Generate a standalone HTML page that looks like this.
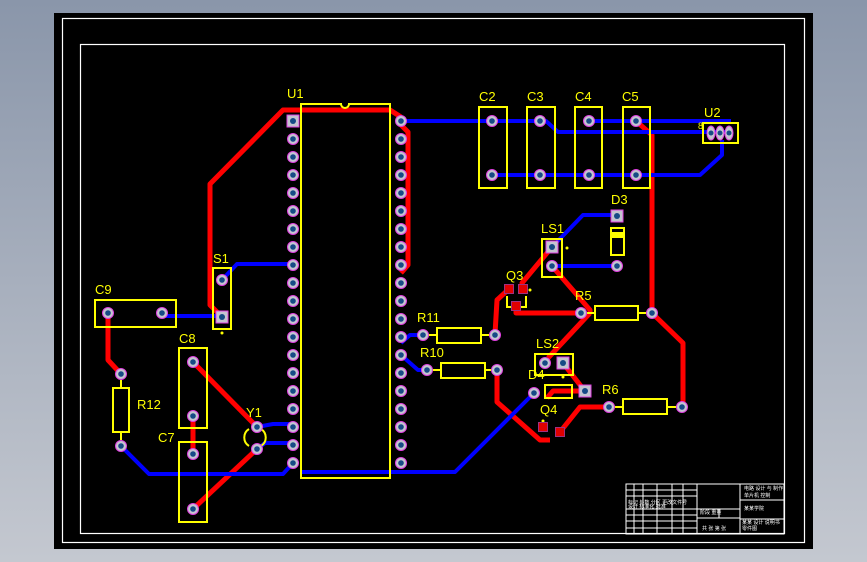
<!DOCTYPE html>
<html><head><meta charset="utf-8"><style>
html,body{margin:0;padding:0;width:867px;height:562px;overflow:hidden;background:linear-gradient(#8a96aa,#c4c8d0)}
svg{display:block}
text{font-family:"Liberation Sans",sans-serif;fill:#ffff00;font-size:13px}
.w{fill:#fff;font-size:5px;font-family:"Liberation Sans","Noto Sans CJK SC",sans-serif}
</style></head><body>
<svg width="867" height="562" viewBox="0 0 867 562">
<defs>
<g id="p"><circle r="5.5" fill="#c4c4d0" stroke="#e040e0" stroke-width="1"/><circle r="2.8" fill="#164a86"/></g>
<g id="s"><rect x="-6" y="-6" width="12" height="12" fill="#c4c4d0" stroke="#e040e0" stroke-width="1"/><circle r="3" fill="#164a86"/></g>
<g id="r"><rect x="-4.5" y="-4.5" width="9" height="9" fill="#e00000" stroke="#a03080" stroke-width="1"/></g>
</defs>
<rect x="54" y="13" width="759" height="536" fill="#000"/>
<rect x="62.5" y="18.5" width="742" height="524" fill="none" stroke="#fff" stroke-width="1.2"/>
<rect x="80.5" y="44.5" width="704" height="489" fill="none" stroke="#fff" stroke-width="1.2"/>

<g fill="none" stroke="#ff0000" stroke-width="5" stroke-linejoin="round">
<polyline points="222,317 210,305 210,184 283,110 390,110 401,117"/>
<polyline points="401,125 408,132 408,265 401,273"/>
<polyline points="108,313 108,360 121,374"/>
<polyline points="193,362 257,427"/>
<polyline points="193,416 193,454"/>
<polyline points="257,449 193,509"/>
<polyline points="636,121 652,135 652,313 683,343 683,406"/>
<polyline points="552,247 522,283 523,289"/>
<polyline points="509,289 497,300 495,334"/>
<polyline points="516,306 516,313 581,313"/>
<polyline points="552,266 590,310 590,313"/>
<polyline points="590,313 548,358"/>
<polyline points="563,363 584,390"/>
<polyline points="584,391 553,391 547,398"/>
<polyline points="497,370 497,402 540,440 550,440"/>
<polyline points="560,432 580,407 609,407"/>
</g>
<g fill="none" stroke="#0000ff" stroke-width="4" stroke-linejoin="round">
<polyline points="401,121 546,121 558,132 725,132"/>
<polyline points="589,121 731,121"/>
<polyline points="492,175 700,175 722,155 722,140"/>
<polyline points="552,247 583,215 617,215"/>
<polyline points="552,266 617,266"/>
<polyline points="401,343 410,335 423,335"/>
<polyline points="401,355 418,370 427,370"/>
<polyline points="534,393 455,472 301,472"/>
<polyline points="162,316 222,316"/>
<polyline points="222,280 237,264 293,264"/>
<polyline points="121,446 149,474 283,474 293,463"/>
<polyline points="257,427 273,424 293,424"/>
<polyline points="257,449 265,443 293,443"/>
</g>

<g fill="none" stroke="#ffff00" stroke-width="2">
<path d="M301,104 H341 A4,4 0 0 0 349,104 H390 V478 H301 Z"/>
<rect x="479" y="107" width="28" height="81"/>
<rect x="527" y="107" width="28" height="81"/>
<rect x="575" y="107" width="27" height="81"/>
<rect x="623" y="107" width="27" height="81"/>
<rect x="703" y="123" width="35" height="20"/>
<rect x="611" y="228" width="13" height="27"/>
<rect x="542" y="239" width="20" height="38"/>
<rect x="535" y="354" width="38" height="21"/>
<rect x="545" y="385" width="27" height="13"/>
<rect x="437" y="328" width="44" height="15"/>
<rect x="441" y="363" width="44" height="15"/>
<rect x="595" y="306" width="43" height="14"/>
<rect x="623" y="399" width="44" height="15"/>
<rect x="95" y="300" width="81" height="27"/>
<rect x="213" y="268" width="18" height="61"/>
<rect x="113" y="388" width="16" height="44"/>
<rect x="179" y="348" width="28" height="80"/>
<rect x="179" y="442" width="28" height="80"/>
<path d="M249,429 A10,10 0 0 0 249,446 M261,429 A10,10 0 0 1 261,446"/>
<path d="M507,296 V307 H512 M526,296 V307 H521"/>
<line x1="121" y1="380" x2="121" y2="388"/><line x1="121" y1="432" x2="121" y2="440"/>
<line x1="429" y1="335" x2="437" y2="335"/><line x1="481" y1="335" x2="489" y2="335"/>
<line x1="433" y1="370" x2="441" y2="370"/><line x1="485" y1="370" x2="491" y2="370"/>
<line x1="587" y1="313" x2="595" y2="313"/><line x1="638" y1="313" x2="646" y2="313"/>
<line x1="615" y1="407" x2="623" y2="407"/><line x1="667" y1="407" x2="676" y2="407"/>
</g>
<rect x="612" y="232" width="11" height="6" fill="#ffff00"/>
<circle cx="567" cy="248" r="1.5" fill="#ff0"/><circle cx="530" cy="290" r="1.5" fill="#ff0"/>
<circle cx="563" cy="377" r="1.5" fill="#ff0"/><circle cx="543" cy="421" r="1.5" fill="#ff0"/>
<circle cx="222" cy="333" r="1.5" fill="#ff0"/>

<use href="#s" x="293" y="121"/>
<g id="lp">
<use href="#p" x="293" y="139"/><use href="#p" x="293" y="157"/><use href="#p" x="293" y="175"/><use href="#p" x="293" y="193"/><use href="#p" x="293" y="211"/><use href="#p" x="293" y="229"/><use href="#p" x="293" y="247"/><use href="#p" x="293" y="265"/><use href="#p" x="293" y="283"/><use href="#p" x="293" y="301"/><use href="#p" x="293" y="319"/><use href="#p" x="293" y="337"/><use href="#p" x="293" y="355"/><use href="#p" x="293" y="373"/><use href="#p" x="293" y="391"/><use href="#p" x="293" y="409"/><use href="#p" x="293" y="427"/><use href="#p" x="293" y="445"/><use href="#p" x="293" y="463"/>
</g>
<use href="#lp" x="108" y="0"/>
<use href="#p" x="401" y="121"/>

<use href="#p" x="492" y="121"/><use href="#p" x="492" y="175"/>
<use href="#p" x="540" y="121"/><use href="#p" x="540" y="175"/>
<use href="#p" x="589" y="121"/><use href="#p" x="589" y="175"/>
<use href="#p" x="636" y="121"/><use href="#p" x="636" y="175"/>
<g fill="#c4c4d0" stroke="#e040e0"><ellipse cx="711" cy="133" rx="4" ry="7"/><ellipse cx="720" cy="133" rx="4" ry="7"/><ellipse cx="729" cy="133" rx="4" ry="7"/></g>
<g fill="#164a86"><circle cx="711" cy="133" r="2.5"/><circle cx="720" cy="133" r="2.5"/><circle cx="729" cy="133" r="2.5"/></g>
<use href="#s" x="617" y="216"/><use href="#p" x="617" y="266"/>
<use href="#s" x="552" y="247"/><use href="#p" x="552" y="266"/>
<use href="#r" x="509" y="289"/><use href="#r" x="523" y="289"/><use href="#r" x="516" y="306"/>
<use href="#p" x="581" y="313"/><use href="#p" x="652" y="313"/>
<use href="#p" x="423" y="335"/><use href="#p" x="495" y="335"/>
<use href="#p" x="427" y="370"/><use href="#p" x="497" y="370"/>
<use href="#p" x="545" y="363"/><use href="#s" x="563" y="363"/>
<use href="#p" x="534" y="393"/><use href="#s" x="585" y="391"/>
<use href="#r" x="543" y="427"/><use href="#r" x="560" y="432"/>
<use href="#p" x="609" y="407"/><use href="#p" x="682" y="407"/>
<use href="#p" x="108" y="313"/><use href="#p" x="162" y="313"/>
<use href="#p" x="222" y="280"/><use href="#s" x="222" y="317"/>
<use href="#p" x="121" y="374"/><use href="#p" x="121" y="446"/>
<use href="#p" x="193" y="362"/><use href="#p" x="193" y="416"/>
<use href="#p" x="193" y="454"/><use href="#p" x="193" y="509"/>
<use href="#p" x="257" y="427"/><use href="#p" x="257" y="449"/>

<text x="287" y="98">U1</text>
<text x="479" y="101">C2</text><text x="527" y="101">C3</text><text x="575" y="101">C4</text><text x="622" y="101">C5</text>
<text x="704" y="117">U2</text><text x="698" y="129" style="font-size:9px">8</text>
<text x="611" y="204">D3</text><text x="541" y="233">LS1</text><text x="506" y="280">Q3</text>
<text x="575" y="300">R5</text><text x="417" y="322">R11</text><text x="420" y="357">R10</text>
<text x="536" y="348">LS2</text><text x="528" y="379">D4</text><text x="540" y="414">Q4</text>
<text x="602" y="394">R6</text><text x="213" y="263">S1</text><text x="95" y="294">C9</text>
<text x="179" y="343">C8</text><text x="137" y="409">R12</text><text x="246" y="417">Y1</text><text x="158" y="442">C7</text>

<g stroke="#fff" stroke-width="1" fill="none">
<rect x="626" y="484" width="158" height="50"/>
<line x1="697" y1="484" x2="697" y2="534"/><line x1="740" y1="484" x2="740" y2="534"/>
<line x1="634" y1="484" x2="634" y2="534"/><line x1="643" y1="484" x2="643" y2="534"/><line x1="657" y1="484" x2="657" y2="534"/><line x1="672" y1="484" x2="672" y2="534"/><line x1="683" y1="484" x2="683" y2="534"/>
<line x1="626" y1="490" x2="697" y2="490"/><line x1="626" y1="496" x2="697" y2="496"/><line x1="626" y1="509" x2="740" y2="509"/><line x1="626" y1="515" x2="697" y2="515"/><line x1="626" y1="521" x2="697" y2="521"/><line x1="626" y1="528" x2="697" y2="528"/>
<line x1="697" y1="518" x2="740" y2="518"/><line x1="719" y1="509" x2="719" y2="518"/>
<line x1="740" y1="500" x2="784" y2="500"/><line x1="740" y1="519" x2="784" y2="519"/>
</g>
<text class="w" x="628" y="504">标记 处数 分区 更改文件号</text>
<text class="w" x="628" y="508">设计 标准化 批准</text>
<text class="w" x="700" y="514">阶段 重量</text>
<text class="w" x="702" y="530">共 张 第 张</text>
<text class="w" x="744" y="490">电路 设计 与 制作</text>
<text class="w" x="744" y="497">单片机 控制</text>
<text class="w" x="744" y="510">某某学院</text>
<text class="w" x="742" y="524">某某 设计 说明书</text>
<text class="w" x="742" y="530">零件图</text>
</svg>
</body></html>
